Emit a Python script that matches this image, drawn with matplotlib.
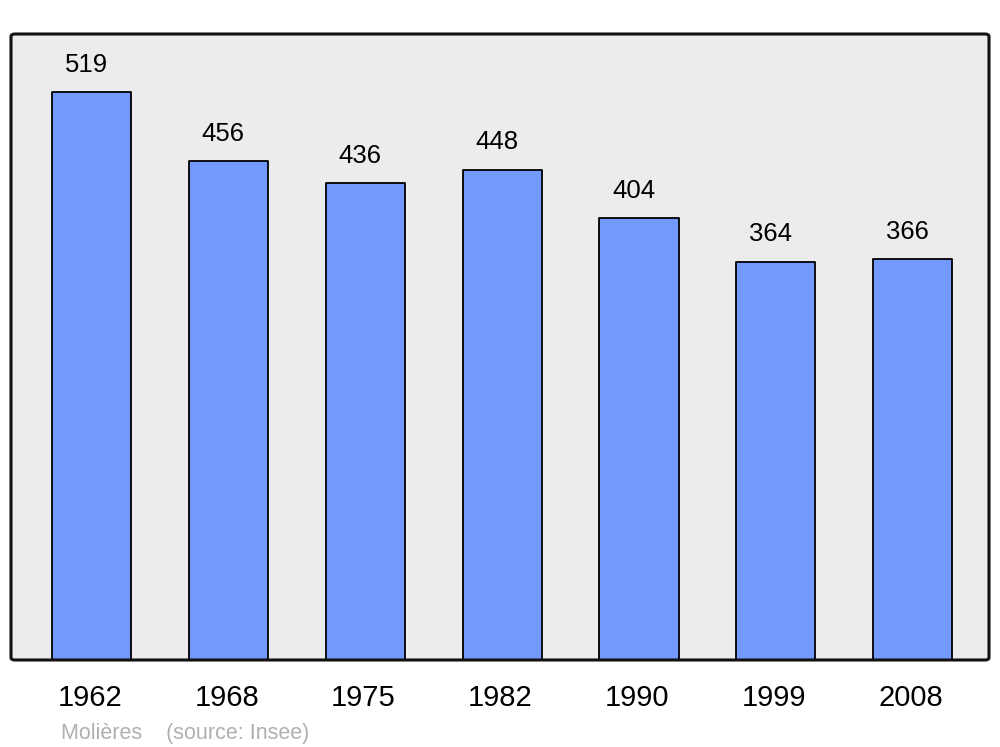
import matplotlib.pyplot as plt
import matplotlib.transforms as mtransforms
from matplotlib.patches import FancyBboxPatch

years = ['1962', '1968', '1975', '1982', '1990', '1999', '2008']
population = [519, 456, 436, 448, 404, 364, 366]

plt.rcParams['font.family'] = ['Liberation Sans', 'DejaVu Sans']

fig = plt.figure(figsize=(10, 7.47), dpi=100)
ax = fig.add_axes([0.011, 1 - 660 / 747, 0.978, 626 / 747])
ax.set_facecolor('#ececec')

x = list(range(len(years)))
bars = ax.bar(x, population, width=0.578, color='#7399ff', edgecolor='black', linewidth=1.3)
for b in bars:
    b.set_joinstyle('round')

for xi, v in zip(x, population):
    ax.annotate(str(v), (xi, v), xytext=(-4, 11), textcoords='offset points',
                ha='center', va='bottom', fontsize=18.5)

ax.set_xlim(-0.592, 6.559)
ax.set_ylim(0, 572)
ax.set_yticks([])
ax.set_xticks(x)
ax.set_xticklabels(years, fontsize=21)
ax.tick_params(axis='x', length=0, pad=17)
shift = mtransforms.ScaledTranslation(-2 / 100, 0, fig.dpi_scale_trans)
for lbl in ax.get_xticklabels():
    lbl.set_transform(lbl.get_transform() + shift)
for s in ax.spines.values():
    s.set_visible(False)

# rounded frame instead of spines
frame = FancyBboxPatch((0, 0), 1, 1, boxstyle='round,pad=0,rounding_size=0.004',
                       transform=ax.transAxes, facecolor='none', edgecolor='#111111',
                       linewidth=2.2, clip_on=False, zorder=5)
ax.add_patch(frame)

fig.text(0.061, 1 - 733 / 747, 'Molières    (source: Insee)', fontsize=15.5, color='#b0b0b0',
         ha='left', va='center')

fig.savefig('out.png', dpi=100)
